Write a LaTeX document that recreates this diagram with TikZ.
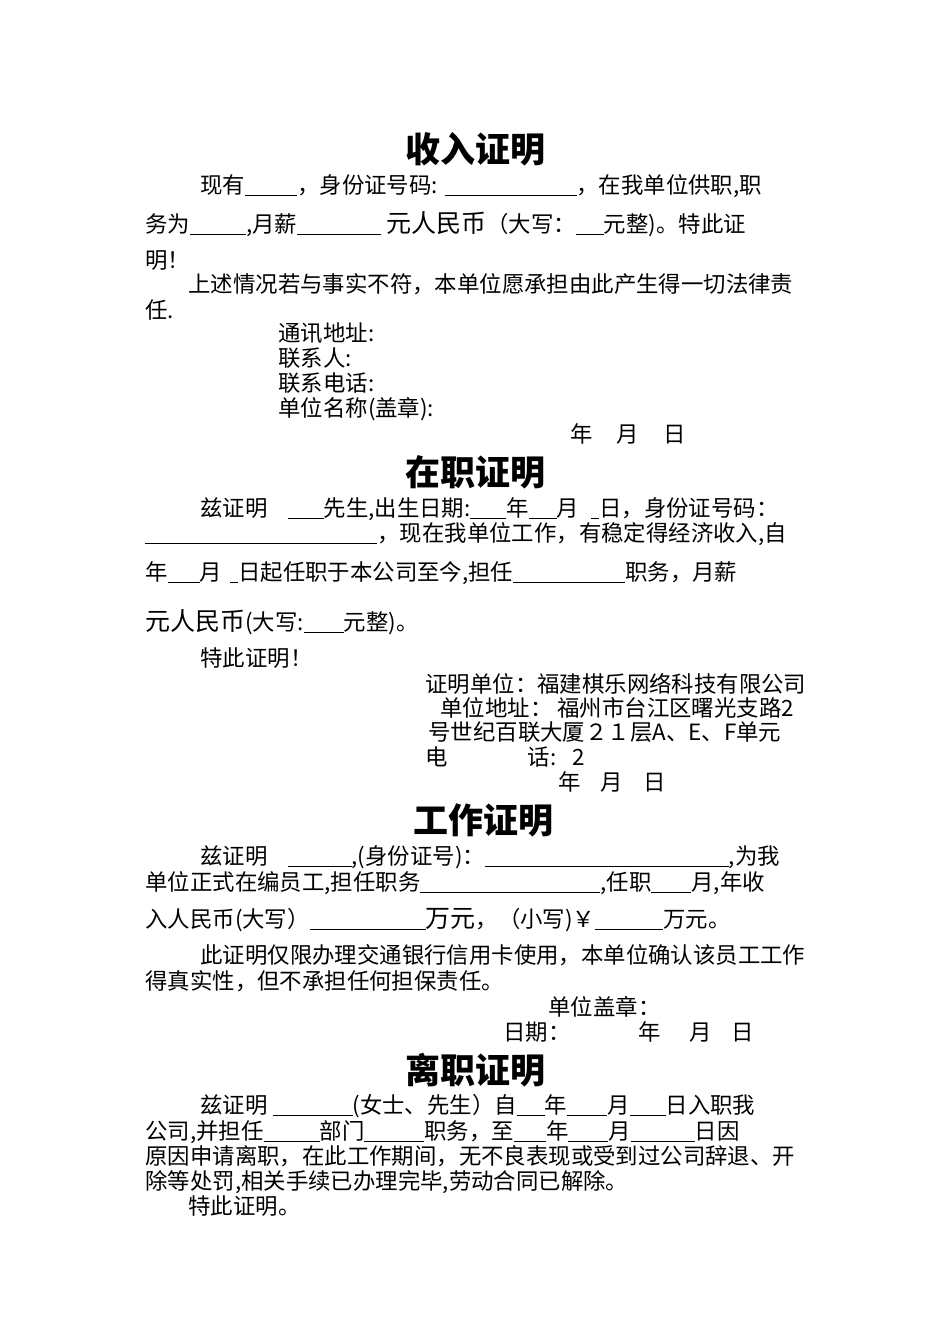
\documentclass[tikz,border=0pt]{standalone}
\usepackage{fontspec}
\setmainfont{Noto Sans CJK SC}
\newcommand\blank[1]{\underline{\hspace{#1pt}}}
\begin{document}
\begin{tikzpicture}[x=0.5pt,y=-0.5pt,
  t/.style={anchor=base west,inner sep=0pt,font=\fontsize{11.2}{13}\selectfont},
  ttl/.style={anchor=base,inner sep=0pt,font=\fontsize{17.5}{20}\selectfont\bfseries}]
\useasboundingbox[fill=white] (0,0) rectangle (950,1344);
\node[ttl] (t1) at (475,162) {收入证明};
\node[t] (a1) at (200,193) {现有\blank{26}，身份证号码: \blank{66}，在我单位供职,职};
\node[t] (a2) at (145,232) {务为\blank{28},月薪\blank{42} {\fontsize{12.5}{14}\selectfont 元人民币}（大写：\blank{14}元整)。特此证};
\node[t] (a3) at (145,268) {明！};
\node[t] (a4) at (188,292) {上述情况若与事实不符，本单位愿承担由此产生得一切法律责};
\node[t] (a5) at (145,318) {任.};
\node[t] (a6) at (278,341) {通讯地址:};
\node[t] (a7) at (278,366) {联系人:};
\node[t] (a8) at (278,391) {联系电话:};
\node[t] (a9) at (278,416) {单位名称(盖章):};
\node[t] (a10) at (570,442) {年\hspace{12pt}月\hspace{12pt}日};
\node[ttl] (t2) at (475,485) {在职证明};
\node[t] (b1) at (200,516) {兹证明\hspace{10pt}\blank{18}先生,出生日期:\blank{18}年\blank{14}月\hspace{6pt}\blank{4}日，身份证号码：};
\node[t] (b2) at (145,541) {\blank{116}，现在我单位工作，有稳定得经济收入,自};
\node[t] (b3) at (145,580) {年\blank{16}月\hspace{4pt}\blank{4}日起任职于本公司至今,担任\blank{56}职务，月薪};
\node[t] (b4) at (145,630) {{\fontsize{12.5}{14}\selectfont 元人民币}(大写:\blank{20}元整)。};
\node[t] (b5) at (200,666) {特此证明！};
\node[t] (b6) at (425,692) {证明单位：福建棋乐网络科技有限公司};
\node[t] (b7) at (440,716) {单位地址： 福州市台江区曙光支路2};
\node[t] (b8) at (428,740) {号世纪百联大厦２１层A、E、F单元};
\node[t] (b9) at (425,765) {电\hspace{40pt}话:\hspace{8pt}2};
\node[t] (b10) at (558,790) {年\hspace{10pt}月\hspace{10pt}日};
\node[ttl] (t3) at (483,833) {工作证明};
\node[t] (c1) at (200,864) {兹证明\hspace{10pt}\blank{32},(身份证号)：\blank{122},为我};
\node[t] (c2) at (145,890) {单位正式在编员工,担任职务\blank{90},任职\blank{20}月,年收};
\node[t] (c3) at (145,927) {入人民币(大写）\blank{58}{\fontsize{12.5}{14}\selectfont 万元}，（小写)￥\blank{34}万元。};
\node[t] (c4) at (200,963) {此证明仅限办理交通银行信用卡使用，本单位确认该员工工作};
\node[t] (c5) at (145,989) {得真实性，但不承担任何担保责任。};
\node[t] (c6) at (548,1015) {单位盖章：};
\node[t] (c7) at (503,1040) {日期：\hspace{34pt}年\hspace{14pt}月\hspace{10pt}日};
\node[ttl] (t4) at (475,1083) {离职证明};
\node[t] (d1) at (200,1113) {兹证明 \blank{40}(女士、先生）自\blank{14}年\blank{20}月\blank{18}日入职我};
\node[t] (d2) at (145,1139) {公司,并担任\blank{28}部门\blank{30}职务，至\blank{16}年\blank{20}月\blank{32}日因};
\node[t] (d3) at (145,1164) {原因申请离职，在此工作期间，无不良表现或受到过公司辞退、开};
\node[t] (d4) at (145,1189) {除等处罚,相关手续已办理完毕,劳动合同已解除。};
\node[t] (d5) at (188,1214) {特此证明。};
\end{tikzpicture}
\end{document}
